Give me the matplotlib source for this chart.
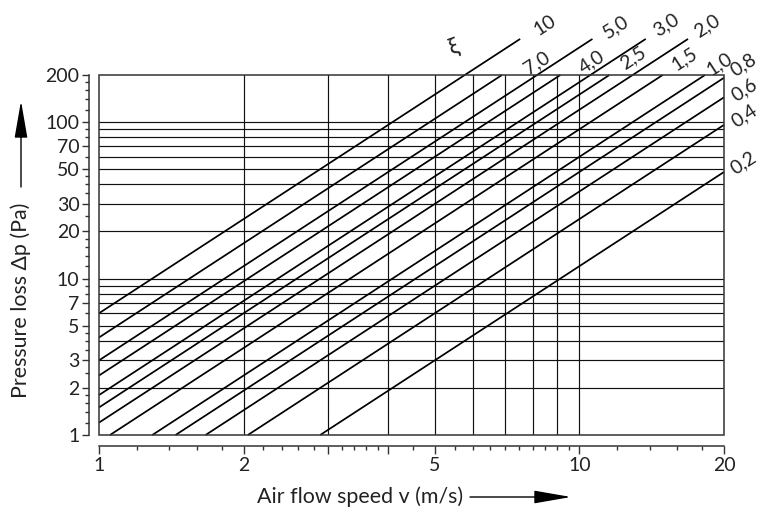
import numpy as np
import matplotlib
matplotlib.use("Agg")
import matplotlib.pyplot as plt
from matplotlib.patches import Rectangle, FancyArrowPatch
from matplotlib.ticker import FixedLocator, FixedFormatter, NullFormatter

# ---------------- data ----------------
xi_values = [10, 7.0, 5.0, 4.0, 3.0, 2.5, 2.0, 1.5, 1.0, 0.8, 0.6, 0.4, 0.2]
xi_labels = ["10", "7,0", "5,0", "4,0", "3,0", "2,5", "2,0", "1,5", "1,0",
             "0,8", "0,6", "0,4", "0,2"]
extended = [True, False, True, False, True, False, True, False, False,
            False, False, False, False]
rho = 1.2  # air density kg/m3 ; dp = rho/2 * xi * v^2

x_major = [1, 2, 3, 4, 5, 10, 20]
x_major_labels = ["1", "2", "", "", "5", "10", "20"]
x_minor = [1.2, 1.4, 1.6, 1.8, 2.2, 2.4, 2.6, 2.8, 3.2, 3.4, 3.6, 3.8, 4.5,
           5.5, 6, 6.5, 7, 7.5, 8, 8.5, 9, 9.5, 12, 14, 16, 18]
y_major = [1, 2, 3, 5, 7, 10, 20, 30, 50, 70, 100, 200]
y_major_labels = ["1", "2", "3", "5", "7", "10", "20", "30", "50", "70", "100", "200"]
y_minor = [1.2, 1.4, 1.6, 1.8, 2.5, 3.5, 4, 4.5, 6, 8, 9,
           12, 14, 16, 18, 25, 35, 40, 45, 60, 80, 90,
           120, 140, 160, 180]
v_grid = [2, 3, 4, 5, 6, 7, 8, 9, 10]
p_grid = [2, 3, 4, 5, 6, 7, 8, 9, 10, 20, 30, 40, 50, 60, 70, 80, 90, 100]

# ---------------- layout ----------------
label_offsets = [(25, 14), (35, 12), (23, 12), (31, 13), (20, 14), (24, 17),
                 (19, 13), (22, 16), (14, 11), (19, 13), (20, 7), (20, 9), (19, 9)]
X_MIN, X_MAX, Y_MIN, Y_MAX, Y_EXT = 1, 20, 1, 200, 340

plt.rcParams["font.family"] = ["Lato", "DejaVu Sans"]
TXT = "#222222"

W, H = 762, 511
fig = plt.figure(figsize=(W / 100, H / 100), dpi=100)
ax = fig.add_axes([99 / W, 1 - 435 / H, 625 / W, 360 / H])
ax.set_xscale("log")
ax.set_yscale("log")
ax.set_xlim(X_MIN, X_MAX)
ax.set_ylim(Y_MIN, Y_MAX)

for v in v_grid:
    ax.axvline(v, color="#111111", lw=0.85, zorder=1)
for p in p_grid:
    ax.axhline(p, color="#111111", lw=0.85, zorder=1)

ax.add_patch(Rectangle((0, 0), 1, 1, transform=ax.transAxes, fill=False,
                       ec="#333333", lw=1.1, clip_on=False, zorder=5))

for xi, lab, ext, (dx, dy) in zip(xi_values, xi_labels, extended, label_offsets):
    k = rho / 2 * xi
    ytop = Y_EXT if ext else Y_MAX
    v0 = max(X_MIN, np.sqrt(Y_MIN / k))
    v1 = min(X_MAX, np.sqrt(ytop / k))
    vs = np.array([v0, v1])
    ax.plot(vs, k * vs ** 2, color="black", lw=1.25, clip_on=False, zorder=4,
            solid_capstyle="butt")
    ax.annotate(lab, xy=(v1, k * v1 ** 2), xytext=(dx, dy),
                textcoords="offset pixels", ha="center", va="center",
                rotation=33, fontsize=14, color=TXT, annotation_clip=False)

fig.text(454 / W, 1 - 47 / H, "ξ", rotation=20, ha="center", va="center",
         fontsize=17, color=TXT)

# axes lines / ticks
for s in ["top", "right"]:
    ax.spines[s].set_visible(False)
ax.spines["left"].set_position(("outward", 7))
ax.spines["bottom"].set_position(("outward", 8))
for s in ["left", "bottom"]:
    ax.spines[s].set_linewidth(1.1)
    ax.spines[s].set_color("#333333")

ax.xaxis.set_major_locator(FixedLocator(x_major))
ax.xaxis.set_major_formatter(FixedFormatter(x_major_labels))
ax.xaxis.set_minor_locator(FixedLocator(x_minor))
ax.xaxis.set_minor_formatter(NullFormatter())
ax.yaxis.set_major_locator(FixedLocator(y_major))
ax.yaxis.set_major_formatter(FixedFormatter(y_major_labels))
ax.yaxis.set_minor_locator(FixedLocator(y_minor))
ax.yaxis.set_minor_formatter(NullFormatter())

ax.tick_params(axis="both", which="major", direction="out", labelsize=14,
               width=1.0, color="#333333", labelcolor=TXT, pad=2)
ax.tick_params(axis="x", which="major", length=6)
ax.tick_params(axis="y", which="major", length=5)
ax.tick_params(axis="both", which="minor", direction="out", length=3,
               width=1.0, color="#333333")

# axis titles and arrows
fig.text(257 / W, 1 - 497 / H, "Air flow speed v (m/s)", ha="left", va="center",
         fontsize=15.4, color=TXT)
fig.text(21 / W, 1 - 300 / H, "Pressure loss Δp (Pa)", rotation=90,
         ha="center", va="center", fontsize=15.4, color=TXT)

arrow = dict(arrowstyle="-|>,head_length=2.3,head_width=0.4", color="black",
             lw=1.0, mutation_scale=10, shrinkA=0, shrinkB=0)
fig.add_artist(FancyArrowPatch((470, H - 497), (571, H - 497), transform=None, **arrow))
fig.add_artist(FancyArrowPatch((21, H - 187), (21, H - 101), transform=None, **arrow))

fig.savefig("out.png", dpi=100)
